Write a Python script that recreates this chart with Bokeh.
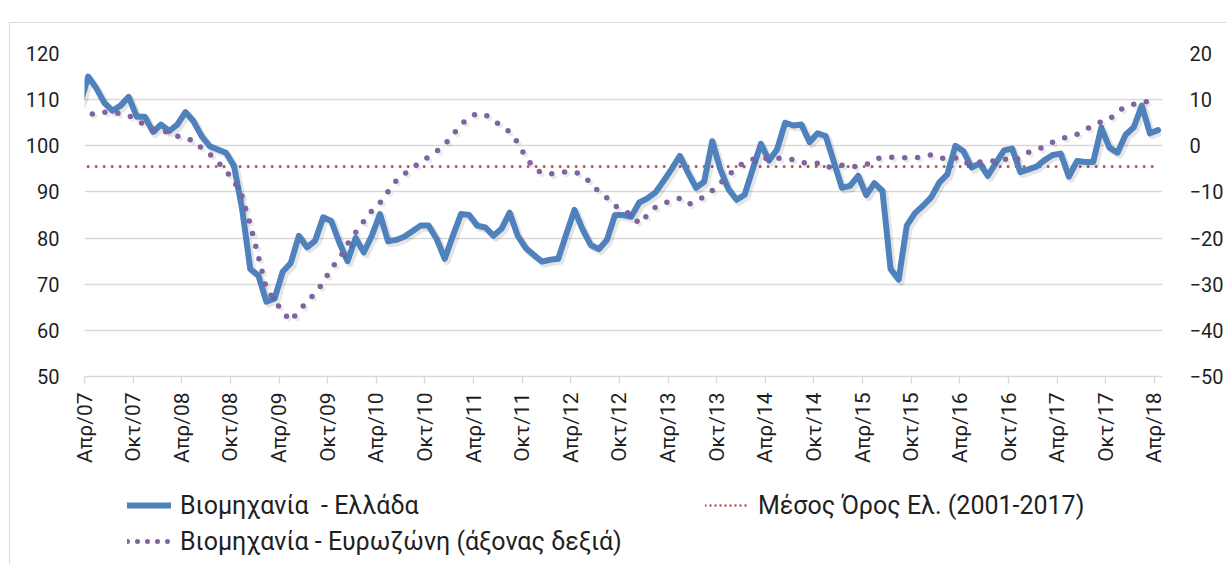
import math
from bokeh.plotting import figure
from bokeh.layouts import column
from bokeh.models import Range1d, LinearAxis, FixedTicker, Legend, LegendItem
from bokeh.embed import file_html
from bokeh.resources import INLINE

# ---------------- data (monthly, Mar/07 ... Apr/18; Mar/07 lies just left of the axis) -------------
greece = [
    109.0,
    115.0, 112.5, 109.3, 107.6, 108.7, 110.6, 106.3, 106.3, 103.0, 104.6, 103.2, 104.6,
    107.3, 105.3, 102.1, 99.9, 99.2, 98.5, 95.6, 86.3, 73.3, 71.9, 66.2, 66.9,
    72.7, 74.6, 80.5, 78.0, 79.4, 84.5, 83.7, 79.0, 75.0, 80.0, 76.9, 80.5,
    85.2, 79.3, 79.6, 80.3, 81.5, 82.7, 82.7, 79.8, 75.5, 80.5, 85.2, 85.0,
    82.7, 82.3, 80.5, 82.0, 85.5, 80.5, 77.8, 76.3, 74.9, 75.3, 75.5, 80.9,
    86.1, 81.9, 78.5, 77.6, 79.6, 85.0, 85.0, 84.6, 87.7, 88.6, 89.9, 92.4,
    95.0, 97.8, 94.2, 90.9, 92.2, 101.0, 94.9, 90.6, 88.3, 89.4, 95.0, 100.4,
    96.8, 99.2, 105.0, 104.4, 104.6, 100.8, 102.7, 102.1, 96.5, 90.9, 91.3, 93.5,
    89.3, 91.9, 90.2, 73.3, 71.0, 82.7, 85.4, 87.0, 88.8, 92.0, 93.8, 100.0,
    98.8, 95.3, 96.2, 93.5, 96.3, 99.0, 99.4, 94.3, 94.9, 95.5, 96.9, 98.0,
    98.3, 93.3, 96.7, 96.5, 96.5, 103.9, 99.6, 98.5, 102.4, 104.0, 108.7, 102.7,
    103.4,
]
eurozone = [
    6.0,
    6.5, 7.3, 7.3, 7.1, 7.0, 6.5, 5.7, 4.4, 3.6, 3.2, 2.9, 2.1,
    1.4, 1.2, -0.5, -1.8, -3.5, -5.4, -7.7, -11.0, -17.0, -24.0, -31.0, -33.5,
    -36.0, -38.0, -35.7, -33.9, -31.9, -29.7, -26.5, -24.5, -21.3, -18.8, -16.4, -14.1,
    -12.4, -9.9, -7.6, -6.1, -4.8, -3.5, -2.4, -1.2, 0.3, 2.4, 4.6, 6.2,
    7.0, 6.7, 5.6, 4.2, 3.0, 0.7, -2.5, -4.8, -6.0, -6.1, -6.0, -5.6,
    -5.6, -6.4, -8.0, -10.0, -11.3, -13.0, -14.1, -14.8, -16.9, -15.0, -13.3, -12.6,
    -11.7, -11.4, -12.7, -12.1, -11.0, -9.7, -8.1, -6.4, -4.8, -3.5, -2.9, -2.8,
    -2.7, -2.7, -2.8, -3.0, -3.7, -3.6, -3.8, -4.7, -4.4, -4.2, -4.6, -4.4,
    -4.1, -2.9, -2.5, -2.5, -2.5, -2.6, -2.7, -2.2, -2.0, -2.7, -2.7, -2.6,
    -3.8, -3.7, -3.5, -3.5, -3.2, -2.8, -3.4, -2.5, -1.4, -1.0, -0.1, 0.8,
    1.6, 1.9, 2.5, 3.4, 4.5, 5.2, 5.7, 7.5, 8.4, 9.0, 9.6, 9.5,
    8.9,
]
avg_greece = 95.5  # Μέσος Όρος Ελ. (2001-2017)

tick_labels = ["Απρ/07", "Οκτ/07", "Απρ/08", "Οκτ/08", "Απρ/09", "Οκτ/09", "Απρ/10", "Οκτ/10",
               "Απρ/11", "Οκτ/11", "Απρ/12", "Οκτ/12", "Απρ/13", "Οκτ/13", "Απρ/14", "Οκτ/14",
               "Απρ/15", "Οκτ/15", "Απρ/16", "Οκτ/16", "Απρ/17", "Οκτ/17", "Απρ/18"]
left_ticks = [50, 60, 70, 80, 90, 100, 110, 120]
right_ticks = [-50, -40, -30, -20, -10, 0, 10, 20]

legend_greece = "Βιομηχανία  - Ελλάδα"
legend_ez = "Βιομηχανία - Ευρωζώνη (άξονας δεξιά)"
legend_avg = "Μέσος Όρος Ελ. (2001-2017)"

# ---------------- positions: months since start of Apr/07, points dated mid-month ----------------
x = [k - 1 + 0.45 for k in range(len(greece))]
tick_pos = [6 * k for k in range(len(tick_labels))]
avg_x = x[1:]
avg_y = [avg_greece] * len(avg_x)

FONT = "Roboto"
TXT = "#1F1F1F"
GRID = "#D9D9D9"
BLUE = "#4F81BD"
PURPLE = "#8064A2"
RED = "#C0504D"

p = figure(width=1216, height=447, x_range=Range1d(0, 133), y_range=Range1d(50, 120),
           output_backend="svg", toolbar_location=None,
           min_border_left=74, min_border_right=61, min_border_top=30, min_border_bottom=94)
p.outline_line_color = None
p.extra_y_ranges = {"ez": Range1d(-50, 20)}

# grid
p.xgrid.visible = False
p.ygrid.ticker = FixedTicker(ticks=left_ticks)
p.ygrid.grid_line_color = GRID
p.ygrid.grid_line_width = 1.3

# x axis
xa = p.xaxis[0]
xa.ticker = FixedTicker(ticks=tick_pos)
xa.major_label_overrides = {t: lab for t, lab in zip(tick_pos, tick_labels)}
xa.major_label_orientation = math.pi / 2
xa.axis_line_color = GRID
xa.axis_line_width = 1.3
xa.major_tick_line_color = GRID
xa.major_tick_line_width = 1.3
xa.major_tick_out = 7
xa.major_tick_in = 0
xa.minor_tick_line_color = None
xa.major_label_standoff = 9
xa.major_label_text_font = FONT
xa.major_label_text_font_size = "21px"
xa.major_label_text_color = TXT

# left y axis
ya = p.yaxis[0]
ya.ticker = FixedTicker(ticks=left_ticks)
ya.axis_line_color = None
ya.major_tick_line_color = None
ya.minor_tick_line_color = None
ya.major_label_standoff = 19
ya.major_label_text_font = FONT
ya.major_label_text_font_size = "20px"
ya.major_label_text_color = TXT

# right y axis
ra = LinearAxis(y_range_name="ez", ticker=FixedTicker(ticks=right_ticks))
ra.axis_line_color = None
ra.major_tick_line_color = None
ra.minor_tick_line_color = None
ra.major_label_standoff = 21
ra.major_label_text_font = FONT
ra.major_label_text_font_size = "20px"
ra.major_label_text_color = TXT
p.add_layout(ra, "right")

# series
p.line(avg_x, avg_y, line_color=RED, line_width=3, line_dash="0 8", line_cap="round")
p.line([v + 0.3 for v in x], [v - 0.55 for v in greece], line_color="black", line_alpha=0.1,
       line_width=7, line_join="round")
p.line(x, greece, line_color=BLUE, line_width=6, line_join="round", line_cap="round")
p.line([v + 0.3 for v in x], [v - 0.55 for v in eurozone], y_range_name="ez", line_color="black",
       line_alpha=0.08, line_width=5.5, line_dash="0 13", line_cap="round")
p.line(x, eurozone, y_range_name="ez", line_color=PURPLE, line_width=5.5,
       line_dash="0 13", line_cap="round")

# ---------------- legend strip below the chart ----------------
# the series are re-used here only as legend proxies: they lie outside this strip's ranges
lg = figure(width=1216, height=94, x_range=Range1d(-1000, -999), y_range=Range1d(-1000, -999),
            output_backend="svg", toolbar_location=None, min_border=0,
            x_axis_location=None, y_axis_location=None)
lg.grid.visible = False
lg.outline_line_color = None
r_blue = lg.line(x, greece, line_color=BLUE, line_width=6, line_cap="round")
r_purple = lg.line(x, eurozone, line_color=PURPLE, line_width=5, line_dash="0 10", line_cap="round")
r_red = lg.line(avg_x, avg_y, line_color=RED, line_width=2.5, line_dash="0 5", line_cap="round")


def style_legend(leg):
    leg.label_text_font = FONT
    leg.label_text_font_size = "25px"
    leg.label_text_color = TXT
    leg.glyph_width = 44
    leg.glyph_height = 30
    leg.label_height = 30
    leg.label_standoff = 9
    leg.spacing = 6
    leg.padding = 0
    leg.margin = 0
    leg.border_line_color = None
    leg.background_fill_alpha = 0


# legend offsets are measured from the (column-aligned) frame's left edge
leg1 = Legend(items=[LegendItem(label=legend_greece, renderers=[r_blue]),
                     LegendItem(label=legend_ez, renderers=[r_purple])], location=(43, 8))
leg2 = Legend(items=[LegendItem(label=legend_avg, renderers=[r_red])], location=(621, 44))
style_legend(leg1)
style_legend(leg2)
lg.add_layout(leg1)
lg.add_layout(leg2)

layout = column(p, lg, spacing=0)
layout.styles = {"margin-top": "22px", "margin-left": "9px", "border-top": "1px solid #D9D9D9",
                 "border-left": "1px solid #D9D9D9"}

open("out.html", "w").write(file_html(layout, INLINE))
